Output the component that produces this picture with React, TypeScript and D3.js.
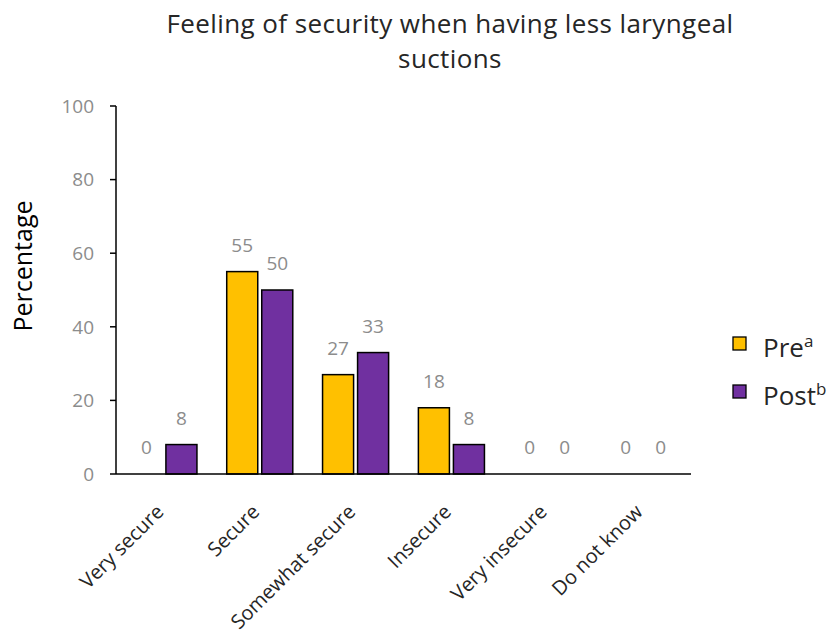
import React from "react";
import * as d3 from "d3";

const categories = ["Very secure", "Secure", "Somewhat secure", "Insecure", "Very insecure", "Do not know"];
const preValues = [0, 55, 27, 18, 0, 0];
const postValues = [8, 50, 33, 8, 0, 0];
const yTicks = [0, 20, 40, 60, 80, 100];
const seriesKeys = ["Pre", "Post"];
const seriesSup = ["a", "b"];
const seriesColors = ["#FFC000", "#7030A0"];

const W = 835;
const H = 637;
const FONT = "'Open Sans', 'Noto Sans', sans-serif";

export default function App() {
  const x = d3.scaleBand<string>().domain(categories).range([116, 691]).paddingInner(0).paddingOuter(0);
  const xi = d3.scaleBand<string>().domain(seriesKeys).range([0, x.bandwidth()]).paddingInner(0.114).paddingOuter(0.425);
  const y = d3.scaleLinear().domain([0, 100]).range([474, 106]);
  const series = [preValues, postValues];

  return (
    <svg width={W} height={H} style={{ position: "absolute", left: 0, top: 0, background: "#fff" }}>
      <text x={450} y={33} textAnchor="middle" fontFamily={FONT} fontSize={26} letterSpacing={0.4} fill="#262626">
        Feeling of security when having less laryngeal
      </text>
      <text x={450} y={68} textAnchor="middle" fontFamily={FONT} fontSize={26} letterSpacing={0.4} fill="#262626">
        suctions
      </text>

      <text
        transform={`translate(32,${266}) rotate(-90)`}
        textAnchor="middle"
        fontFamily={FONT}
        fontSize={25}
        fill="#000"
      >
        Percentage
      </text>

      {/* y axis */}
      <line x1={116} x2={116} y1={y(100)} y2={y(0)} stroke="#000" strokeWidth={1.5} />
      {yTicks.map((t) => (
        <g key={t}>
          <line x1={110} x2={116} y1={y(t)} y2={y(t)} stroke="#000" strokeWidth={1.5} />
          <text x={94} y={y(t)} dy="0.36em" textAnchor="end" fontFamily={FONT} fontSize={19} fill="#8c8c8c">
            {t}
          </text>
        </g>
      ))}

      {/* bars */}
      {categories.map((c, i) => (
        <g key={c}>
          {seriesKeys.map((k, s) => {
            const v = series[s][i];
            const bx = (x(c) as number) + (xi(k) as number);
            const bw = xi.bandwidth();
            return (
              <g key={k}>
                {v > 0 && (
                  <rect
                    x={bx}
                    y={y(v)}
                    width={bw}
                    height={y(0) - y(v)}
                    fill={seriesColors[s]}
                    stroke="#000"
                    strokeWidth={1.5}
                  />
                )}
                <text
                  x={bx + bw / 2}
                  y={y(v) - 20}
                  textAnchor="middle"
                  fontFamily={FONT}
                  fontSize={19}
                  fill="#8c8c8c"
                >
                  {v}
                </text>
              </g>
            );
          })}
        </g>
      ))}

      {/* x axis */}
      <line x1={116} x2={691} y1={y(0)} y2={y(0)} stroke="#000" strokeWidth={1.5} />
      {categories.map((c) => {
        const cx = (x(c) as number) + x.bandwidth() / 2 + 1;
        return (
          <text
            key={c}
            transform={`translate(${cx},${513}) rotate(-45)`}
            textAnchor="end"
            fontFamily={FONT}
            fontSize={20}
            fill="#262626"
          >
            {c}
          </text>
        );
      })}

      {/* legend */}
      {seriesKeys.map((k, s) => (
        <g key={k} transform={`translate(733,${337 + s * 48})`}>
          <rect x={0} y={0} width={13} height={13} fill={seriesColors[s]} stroke="#000" strokeWidth={1.3} />
          <text x={30} y={20} fontFamily={FONT} fontSize={26} fill="#262626">
            {k}
            <tspan fontSize={17} dy={-10}>
              {seriesSup[s]}
            </tspan>
          </text>
        </g>
      ))}
    </svg>
  );
}
